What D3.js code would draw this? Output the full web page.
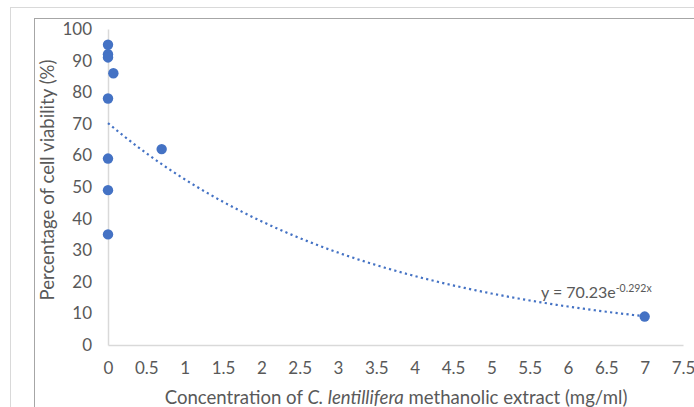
<!DOCTYPE html>
<html><head><meta charset="utf-8">
<script src="https://cdn.jsdelivr.net/npm/d3@7"></script>
<style>body{margin:0;background:#fff;}svg{display:block;font-family:Lato,sans-serif;}</style>
</head><body>
<svg id="c" width="694" height="407"></svg>
<script>
const xValues = [0, 0, 0, 0.07, 0, 0.7, 0, 0, 0, 7];
const yValues = [95, 92, 91, 86, 78, 62, 59, 49, 35, 9];
const xTicks = [0,0.5,1,1.5,2,2.5,3,3.5,4,4.5,5,5.5,6,6.5,7,7.5];
const yTicks = [0,10,20,30,40,50,60,70,80,90,100];
const fitA = 70.23, fitB = -0.292;

const svg = d3.select("#c");
// outer frames
svg.append("rect").attr("x",10.5).attr("y",7.5).attr("width",700).attr("height",420).attr("fill","none").attr("stroke","#d9d9d9");
svg.append("rect").attr("x",34.5).attr("y",18.5).attr("width",700).attr("height",420).attr("fill","none").attr("stroke","#a6a6a6");

const x = d3.scaleLinear().domain([0,7.5]).range([108,683]);
const y = d3.scaleLinear().domain([0,100]).range([345,29]);
const col = "#595959";
const ff = "Lato,sans-serif";

const xAxis = svg.append("g").attr("transform","translate(0,345)")
  .call(d3.axisBottom(x).tickValues(xTicks).tickSize(0).tickPadding(17).tickFormat(d=>String(d)));
xAxis.select(".domain").attr("stroke","#d9d9d9").attr("stroke-width",1.5);
xAxis.selectAll("text").attr("fill",col).style("font-size","17px").style("font-family",ff);

const yAxis = svg.append("g").attr("transform","translate(108,0)")
  .call(d3.axisLeft(y).tickValues(yTicks).tickSize(0).tickPadding(16));
yAxis.select(".domain").attr("stroke","#d9d9d9").attr("stroke-width",1.5);
yAxis.selectAll("text").attr("fill",col).style("font-size","17px").style("font-family",ff);

// trendline
const fitX = d3.range(0, 7.0001, 0.05);
svg.append("path").datum(fitX)
  .attr("d", d3.line().x(d=>x(d)).y(d=>y(fitA*Math.exp(fitB*d))))
  .attr("fill","none").attr("stroke","#4472c4").attr("stroke-width",2.2)
  .attr("stroke-dasharray","2.2,3.3").attr("stroke-linecap","butt");

// points
svg.append("g").selectAll("circle").data(xValues.map((v,i)=>[v,yValues[i]])).join("circle")
  .attr("cx",d=>x(d[0])).attr("cy",d=>y(d[1])).attr("r",5.2).attr("fill","#4472c4");

// equation
const eq = svg.append("text").attr("x",541).attr("y",298).attr("fill",col).style("font-size","16px").style("font-family",ff);
eq.append("tspan").text("y = " + fitA + "e");
eq.append("tspan").attr("dy",-6).style("font-size","10.5px").text(String(fitB) + "x");

// axis titles
const xt = svg.append("text").attr("x",396).attr("y",404).attr("text-anchor","middle").attr("fill",col).style("font-size","18.6px").style("font-family",ff);
xt.append("tspan").text("Concentration of ");
xt.append("tspan").style("font-style","italic").text("C. lentillifera");
xt.append("tspan").text(" methanolic extract (mg/ml)");

svg.append("text").attr("transform","translate(54,180) rotate(-90)").attr("text-anchor","middle")
  .attr("fill",col).style("font-size","18.6px").style("font-family",ff).text("Percentage of cell viability (%)");
</script>
</body></html>
